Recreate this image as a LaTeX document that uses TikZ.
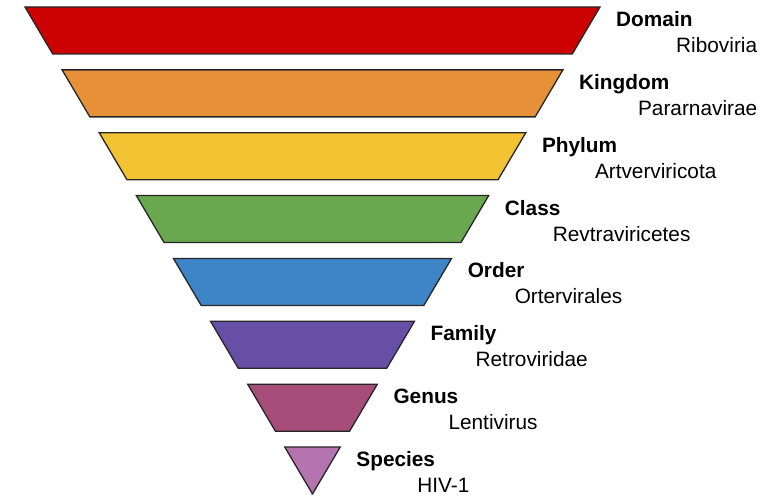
\documentclass[tikz,border=0pt]{standalone}
\usepackage{fontspec}
\setmainfont{Liberation Sans}
\usepackage{xcolor}
\usepackage{tikz}
\usetikzlibrary{positioning,calc}

\definecolor{domaincol}{HTML}{CC0000}
\definecolor{kingdomcol}{HTML}{E69138}
\definecolor{phylumcol}{HTML}{F1C232}
\definecolor{classcol}{HTML}{6AA84F}
\definecolor{ordercol}{HTML}{3D85C6}
\definecolor{familycol}{HTML}{674EA7}
\definecolor{genuscol}{HTML}{A64D79}
\definecolor{speciescol}{HTML}{B574B0}

\begin{document}
\begin{tikzpicture}[
  x=1pt, y=1pt,
  level/.style={draw=black!85, line width=1.3pt, line join=miter},
  rank/.style={font=\fontsize{20.8}{24}\selectfont\bfseries, anchor=base west, inner sep=0pt},
  taxon/.style={font=\fontsize{20.8}{24}\selectfont, anchor=base west, inner sep=0pt}
]
\useasboundingbox (0,0) rectangle (766,496);
% slices of one big triangle, apex at (312.5,2)
\foreach \rname/\tname/\col/\dx [count=\i from 0] in {
  Domain/Riboviria/domaincol/60,
  Kingdom/Pararnavirae/kingdomcol/59,
  Phylum/Artverviricota/phylumcol/53,
  Class/Revtraviricetes/classcol/48,
  Order/Ortervirales/ordercol/47,
  Family/Retroviridae/familycol/45,
  Genus/Lentivirus/genuscol/55,
  Species/HIV-1/speciescol/61}{
  \pgfmathsetmacro{\ytop}{489-62.86*\i}
  \pgfmathsetmacro{\ybot}{\ytop-47}
  \pgfmathsetmacro{\wtop}{0.5904*(\ytop-2)}
  \pgfmathsetmacro{\wbot}{0.5904*(\ybot-2)}
  \coordinate (tl\i) at (312.5-\wtop,\ytop);
  \coordinate (tr\i) at (312.5+\wtop,\ytop);
  \coordinate (br\i) at (312.5+\wbot,\ybot);
  \coordinate (bl\i) at (312.5-\wbot,\ybot);
  \draw[level, fill=\col] (tl\i) -- (tr\i) -- (br\i) -- (bl\i) -- cycle;
  \node[rank] (rank\i) at ($(tr\i)+(16,-19.5)$) {\rname};
  \node[taxon] (taxon\i) at ($(rank\i.base west)+(\dx,-26)$) {\tname};
}
\end{tikzpicture}
\end{document}
